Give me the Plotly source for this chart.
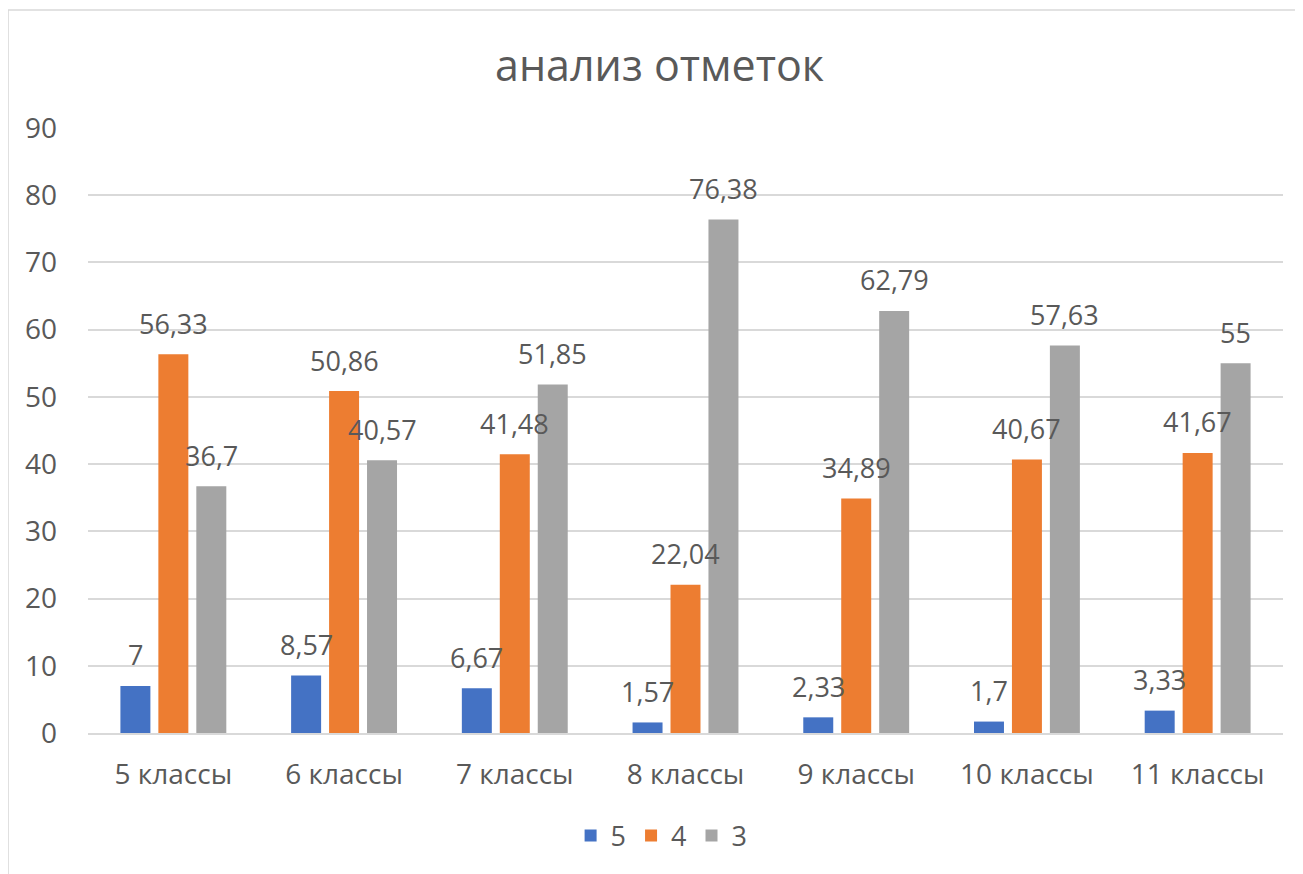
import plotly.graph_objects as go

categories = ["5 классы", "6 классы", "7 классы", "8 классы", "9 классы", "10 классы", "11 классы"]
series_names = ["5", "4", "3"]
values_5 = [7, 8.57, 6.67, 1.57, 2.33, 1.7, 3.33]
values_4 = [56.33, 50.86, 41.48, 22.04, 34.89, 40.67, 41.67]
values_3 = [36.7, 40.57, 51.85, 76.38, 62.79, 57.63, 55]
colors = ["#4472C4", "#ED7D31", "#A5A5A5"]

FONT = "Open Sans"
TXT = "#595959"

def fmt(v):
    return f"{v:g}".replace(".", ",")

fig = go.Figure()
all_vals = [values_5, values_4, values_3]
for name, vals, col in zip(series_names, all_vals, colors):
    fig.add_trace(go.Bar(name=name, x=categories, y=vals, marker_color=col,
                         marker_line_width=0))

annotations = []
for i, vals in enumerate(all_vals):
    for c, v in zip(categories, vals):
        annotations.append(dict(x=c, y=v, xref="x", yref="y", text=fmt(v),
                                showarrow=False, xshift=(i - 1) * 38, yshift=31,
                                yanchor="middle",
                                font=dict(family=FONT, size=27, color=TXT)))

fig.update_layout(
    width=1303, height=874,
    margin=dict(l=80, r=28, t=120, b=149),
    paper_bgcolor="white", plot_bgcolor="white",
    barmode="group", bargap=0.333, bargroupgap=0.21,
    title=dict(text="анализ отметок", x=0.5, xanchor="center", y=0.9336, yanchor="middle",
               font=dict(family=FONT, size=43, color=TXT)),
    font=dict(family=FONT, color=TXT),
    showlegend=True,
    legend=dict(orientation="h", x=0.48, xanchor="center", y=-0.17, yanchor="middle",
                font=dict(family=FONT, size=27, color=TXT), traceorder="normal",
                itemwidth=30),
    annotations=annotations,
    shapes=[dict(type="rect", xref="paper", yref="paper",
                 x0=-0.0669, x1=1.0142, y0=-0.3, y1=1.195,
                 line=dict(color="#D9D9D9", width=1.5), fillcolor="rgba(0,0,0,0)",
                 layer="below")],
)
fig.update_yaxes(range=[0, 90], dtick=10, showgrid=True, gridcolor="#D9D9D9", gridwidth=1.5,
                 zeroline=False, showline=False, ticks="", ticklabelstandoff=30,
                 tickfont=dict(family=FONT, size=28, color=TXT))
fig.update_xaxes(showline=True, linecolor="#D9D9D9", linewidth=1.5, ticks="",
                 tickfont=dict(family=FONT, size=28, color=TXT), ticklabelstandoff=16)

fig.write_html("out.html")
